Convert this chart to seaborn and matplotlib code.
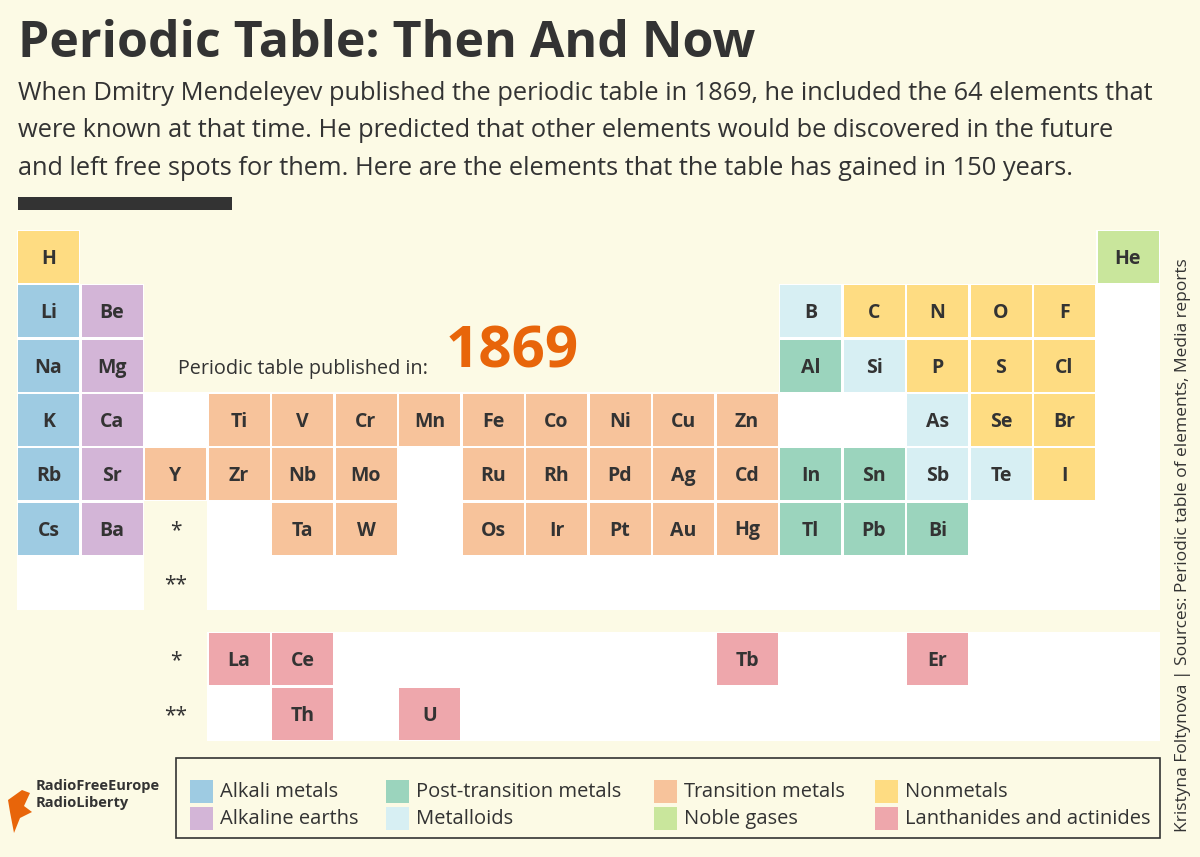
import matplotlib
matplotlib.use("Agg")
import matplotlib.pyplot as plt
from matplotlib.patches import Rectangle, Polygon
import seaborn as sns

sns.set_theme(style="white")

# ---- data ----
symbols = ["H", "He",
           "Li", "Be", "B", "C", "N", "O", "F",
           "Na", "Mg", "Al", "Si", "P", "S", "Cl",
           "K", "Ca", "Ti", "V", "Cr", "Mn", "Fe", "Co", "Ni", "Cu", "Zn", "As", "Se", "Br",
           "Rb", "Sr", "Y", "Zr", "Nb", "Mo", "Ru", "Rh", "Pd", "Ag", "Cd", "In", "Sn", "Sb", "Te", "I",
           "Cs", "Ba", "Ta", "W", "Os", "Ir", "Pt", "Au", "Hg", "Tl", "Pb", "Bi"]
groups = [1, 18,
          1, 2, 13, 14, 15, 16, 17,
          1, 2, 13, 14, 15, 16, 17,
          1, 2, 4, 5, 6, 7, 8, 9, 10, 11, 12, 15, 16, 17,
          1, 2, 3, 4, 5, 6, 8, 9, 10, 11, 12, 13, 14, 15, 16, 17,
          1, 2, 5, 6, 8, 9, 10, 11, 12, 13, 14, 15]
periods = [1, 1] + [2]*7 + [3]*7 + [4]*14 + [5]*16 + [6]*12
cats = ["Nonmetals", "Noble gases",
        "Alkali metals", "Alkaline earths", "Metalloids", "Nonmetals", "Nonmetals", "Nonmetals", "Nonmetals",
        "Alkali metals", "Alkaline earths", "Post-transition metals", "Metalloids", "Nonmetals", "Nonmetals", "Nonmetals",
        "Alkali metals", "Alkaline earths"] + ["Transition metals"]*9 + ["Metalloids", "Nonmetals", "Nonmetals"] + \
       ["Alkali metals", "Alkaline earths"] + ["Transition metals"]*9 + \
       ["Post-transition metals", "Post-transition metals", "Metalloids", "Metalloids", "Nonmetals"] + \
       ["Alkali metals", "Alkaline earths"] + ["Transition metals"]*7 + ["Post-transition metals"]*3

f_symbols = ["La", "Ce", "Tb", "Er", "Th", "U"]
f_cols = [4, 5, 12, 15, 5, 7]
f_rows = [1, 1, 1, 1, 2, 2]

legend_order = ["Alkali metals", "Alkaline earths", "Post-transition metals", "Metalloids",
                "Transition metals", "Noble gases", "Nonmetals", "Lanthanides and actinides"]
colors = {"Alkali metals": "#9ecbe2", "Alkaline earths": "#d3b5d7",
          "Post-transition metals": "#9bd4bd", "Metalloids": "#d7eff3",
          "Transition metals": "#f7c39b", "Noble gases": "#c9e69c",
          "Nonmetals": "#fedc82", "Lanthanides and actinides": "#eea7ac"}

BG = "#fcfae5"
TXT = "#333333"

fig = plt.figure(figsize=(12, 8.57), dpi=100, facecolor=BG)
ax = fig.add_axes([0, 0, 1, 1])
ax.set_xlim(0, 1200)
ax.set_ylim(857, 0)
ax.axis("off")
ax.set_facecolor(BG)

PX, PY, X0, Y0 = 63.5, 54.3, 18, 231
FY0, FPY = 633, 54.7
W, H = 61, 52

def cx(c):
    return X0 + (c - 1) * PX

def ry(r):
    return Y0 + (r - 1) * PY

# white table background (all slots of standard table)
slots = [(1, 1), (18, 1)] + [(c, 2) for c in (1, 2, *range(13, 19))] + [(c, 3) for c in (1, 2, *range(13, 19))]
slots += [(c, r) for r in (4, 5) for c in range(1, 19)]
slots += [(c, r) for r in (6, 7) for c in range(1, 19) if c != 3]
for c, r in slots:
    ax.add_patch(Rectangle((cx(c) - 1.5, ry(r) - 1.5), PX, PY, fc="white", ec="none", zorder=1))
for r in (1, 2):
    for c in range(4, 19):
        ax.add_patch(Rectangle((cx(c) - 1.5, FY0 + (r - 1) * FPY - 1.5), PX, FPY, fc="white", ec="none", zorder=1))

fam = ["Open Sans", "DejaVu Sans"]

for s, g, p, k in zip(symbols, groups, periods, cats):
    x, y = cx(g), ry(p)
    ax.add_patch(Rectangle((x, y), W, H, fc=colors[k], ec="none", zorder=2))
    ax.text(x + W / 2, y + H / 2 + 2, s, ha="center", va="center", fontsize=14,
            fontweight="bold", color=TXT, family=fam, zorder=3)

for s, c, r in zip(f_symbols, f_cols, f_rows):
    x, y = cx(c), FY0 + (r - 1) * FPY
    ax.add_patch(Rectangle((x, y), W, H, fc=colors["Lanthanides and actinides"], ec="none", zorder=2))
    ax.text(x + W / 2, y + H / 2 + 2, s, ha="center", va="center", fontsize=14,
            fontweight="bold", color=TXT, family=fam, zorder=3)

for lab, y in (("*", ry(6)), ("**", ry(7)), ("*", FY0), ("**", FY0 + FPY)):
    ax.text(cx(3) + W / 2, y + H / 2 + 2, lab, ha="center", va="center", fontsize=15, color=TXT, family=fam)

# title and subtitle
ax.text(18, 44, "Periodic Table: Then And Now", fontsize=36, fontweight="bold", color=TXT,
        family=fam, va="center", ha="left")
sub = ["When Dmitry Mendeleyev published the periodic table in 1869, he included the 64 elements that",
       "were known at that time. He predicted that other elements would be discovered in the future",
       "and left free spots for them. Here are the elements that the table has gained in 150 years."]
for i, line in enumerate(sub):
    ax.text(18, 93 + i * 37.5, line, fontsize=18.3, color=TXT, family=fam, va="center", ha="left")
ax.add_patch(Rectangle((18, 197), 214, 13, fc=TXT, ec="none"))

ax.text(303, 369, "Periodic table published in:", fontsize=14.2, color=TXT, family=fam, ha="center", va="center")
ax.text(512, 352, "1869", fontsize=42, fontweight="bold", color="#e8650a", family=fam, ha="center", va="center")

# legend
ax.add_patch(Rectangle((176, 758), 984, 80, fc=BG, ec=TXT, lw=1.2))
lx = [190, 386, 654, 875]
for i, k in enumerate(legend_order):
    x = lx[i // 2]
    y = 791 + (i % 2) * 27
    ax.add_patch(Rectangle((x, y - 11.5), 23, 23, fc=colors[k], ec="none"))
    ax.text(x + 30, y + 1, k, fontsize=14.5, color=TXT, family=fam, va="center", ha="left")

# logo
ax.add_patch(Polygon([[8, 800], [22, 790], [30, 793], [24, 806], [32, 812], [20, 818], [14, 833], [10, 812]],
                     fc="#e8650a", ec="none"))
ax.text(36, 786, "RadioFreeEurope", fontsize=10.5, fontweight="bold", color=TXT, family=fam, va="center")
ax.text(36, 803, "RadioLiberty", fontsize=10.5, fontweight="bold", color=TXT, family=fam, va="center")

ax.text(1183, 545, "Kristyna Foltynova | Sources: Periodic table of elements, Media reports",
        rotation=90, fontsize=12.5, color=TXT, family=fam, ha="center", va="center")

fig.savefig("out.png", dpi=100, facecolor=BG)
